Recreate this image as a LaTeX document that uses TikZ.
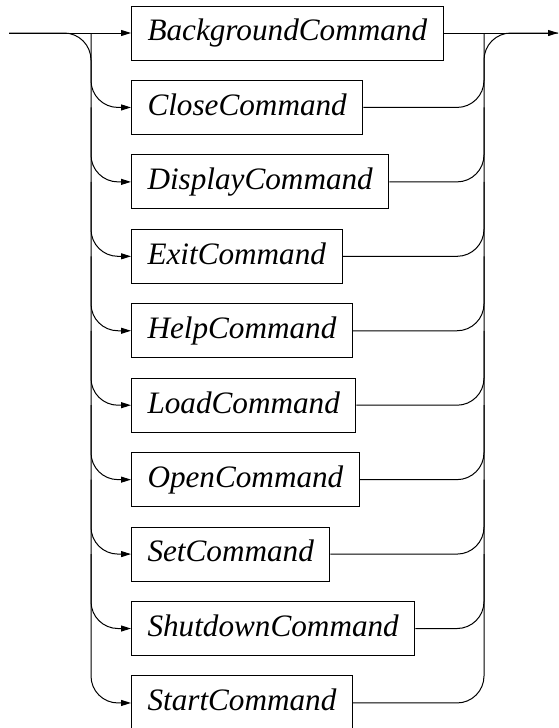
\documentclass[tikz,border=0pt]{standalone}
\usepackage{fontspec}
\setmainfont{Liberation Serif}[ItalicFont={Liberation Serif Italic}]
\newfontfamily\railfont{Liberation Serif Italic}
\usetikzlibrary{arrows.meta}
\begin{document}
\begin{tikzpicture}[x=1pt,y=-1pt,
  rail/.style={line width=1pt},
  railarrow/.style={rail,-{Triangle[length=10pt,width=6pt]}},
  nonterm/.style={draw,line width=1pt,anchor=west,inner xsep=16pt,inner ysep=0pt,
    minimum height=54pt,text height=21.8pt,text depth=6.2pt,
    font=\railfont\fontsize{31.2}{36}\selectfont}]
\useasboundingbox (0,0) rectangle (559,728);

% one box per alternative
\foreach \name [count=\i] in {Background,Close,Display,Exit,Help,Load,Open,Set,Shutdown,Start}
  \node[nonterm] (\name) at (131,{33+(\i-1)*74.44}) {\name Command};

% entry, exit and the two vertical rails
\coordinate (in) at (9,33);
\coordinate (out) at (558,33);
\coordinate (lrail) at (91,0);
\coordinate (rrail) at (484,0);

\draw[railarrow] (in) -- (Background.west);
\draw[railarrow] (Background.east) -- (out);

\draw[railarrow,rounded corners=27pt]
  (in) -- (lrail |- Background.west) -- (lrail |- Start.west) -- (Start.west);
\draw[rail,rounded corners=27pt]
  (Start.east) -- (rrail |- Start.east) -- (rrail |- Background.east) -- (out);

% branches for the middle alternatives
\foreach \name/\prev in {Close/Background,Display/Close,Exit/Display,Help/Exit,
    Load/Help,Open/Load,Set/Open,Shutdown/Set} {
  \draw[railarrow,rounded corners=27pt]
    (lrail |- \prev.west) -- (lrail |- \name.west) -- (\name.west);
  \draw[rail,rounded corners=27pt]
    (\name.east) -- (rrail |- \name.east) -- (rrail |- \prev.east);
}
\end{tikzpicture}
\end{document}
